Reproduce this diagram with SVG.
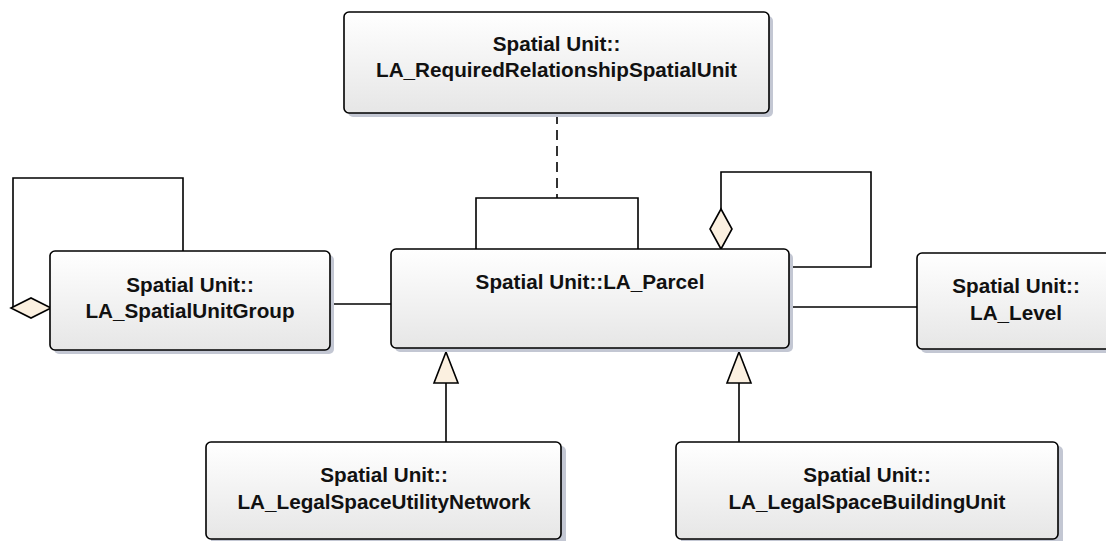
<svg xmlns="http://www.w3.org/2000/svg" width="1106" height="541" viewBox="0 0 1106 541">
<defs>
<linearGradient id="g" x1="0" y1="0" x2="0" y2="1">
<stop offset="0" stop-color="#ffffff"/>
<stop offset="1" stop-color="#e6e6e6"/>
</linearGradient>
</defs>
<style>
.sh{fill:#c3c7d3;stroke:none}
.bx{fill:url(#g);stroke:#000;stroke-width:1.6}
.t{font-family:"Liberation Sans",Arial,sans-serif;font-weight:bold;font-size:20.7px;text-anchor:middle;fill:#111}
.c{fill:none;stroke:#000;stroke-width:1.6}
.d{stroke-dasharray:10 6}
.h{fill:#fbf0e0;stroke:#000;stroke-width:1.6;stroke-linejoin:miter}
</style>
<rect width="1106" height="541" fill="#fff"/>
<g id="connectors">
<path class="c d" d="M557 114V198"/>
<path class="c" d="M476 250V198H638V250"/>
<path class="c" d="M721 209V172H871V267H790"/>
<polygon class="h" points="721,209 732,229 721,249 710,229"/>
<path class="c" d="M790 307H917"/>
<path class="c" d="M331 304H391"/>
<path class="c" d="M13 308V178H183V251"/>
<polygon class="h" points="11,308 31,298 51,308 31,318"/>
<path class="c" d="M446 442V383"/>
<polygon class="h" points="446,352 458,383 434,383"/>
<path class="c" d="M739 442V383"/>
<polygon class="h" points="739,352 751,383 727,383"/>
</g>
<g id="required">
<rect class="sh" x="348" y="16" width="425" height="101" rx="5"/>
<rect class="bx" x="344" y="12" width="425" height="101" rx="5"/>
<text class="t" x="556.5" y="51">Spatial Unit::</text>
<text class="t" x="556.5" y="77">LA_RequiredRelationshipSpatialUnit</text>
</g>
<g id="spatialunitgroup">
<rect class="sh" x="54" y="255" width="280" height="99" rx="5"/>
<rect class="bx" x="50" y="251" width="280" height="99" rx="5"/>
<text class="t" x="190" y="292">Spatial Unit::</text>
<text class="t" x="190" y="318">LA_SpatialUnitGroup</text>
</g>
<g id="parcel">
<rect class="sh" x="395" y="253" width="398" height="99" rx="5"/>
<rect class="bx" x="391" y="249" width="398" height="99" rx="5"/>
<text class="t" x="590" y="289">Spatial Unit::LA_Parcel</text>
</g>
<g id="level">
<rect class="sh" x="921" y="257" width="200" height="96" rx="5"/>
<rect class="bx" x="917" y="253" width="200" height="96" rx="5"/>
<text class="t" x="1016" y="293">Spatial Unit::</text>
<text class="t" x="1016" y="320">LA_Level</text>
</g>
<g id="utilitynetwork">
<rect class="sh" x="211" y="446" width="355" height="100" rx="5"/>
<rect class="bx" x="206" y="442" width="355" height="97" rx="5"/>
<text class="t" x="384" y="482">Spatial Unit::</text>
<text class="t" x="384" y="509">LA_LegalSpaceUtilityNetwork</text>
</g>
<g id="buildingunit">
<rect class="sh" x="681" y="446" width="382" height="100" rx="5"/>
<rect class="bx" x="676" y="442" width="382" height="97" rx="5"/>
<text class="t" x="867" y="482">Spatial Unit::</text>
<text class="t" x="867" y="509">LA_LegalSpaceBuildingUnit</text>
</g>
</svg>
